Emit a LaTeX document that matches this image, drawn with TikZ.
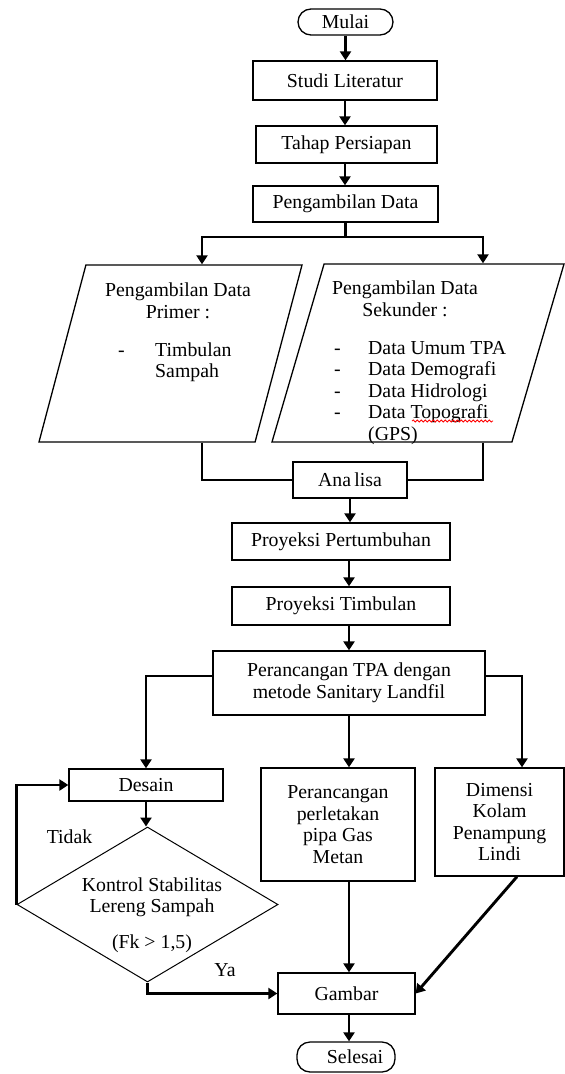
\documentclass[tikz,border=0pt]{standalone}
\usepackage{fontspec}
\setmainfont{Liberation Serif}
\usepackage{tikz}
\usetikzlibrary{positioning,arrows.meta,calc,shapes.geometric,decorations.pathmorphing}

\begin{document}
\begin{tikzpicture}[x=1pt,y=-1pt,
	every node/.style={font=\fontsize{19.8}{21.5}\selectfont, inner sep=0pt},
	box/.style={draw, line width=1.3pt, rectangle, align=center},
	term/.style={draw, line width=1.3pt, rectangle, rounded corners=13pt},
	data/.style={draw, line width=1.3pt, trapezium, inner sep=2pt, trapezium left angle=74.5, trapezium right angle=105.5, trapezium stretches=true},
	decision/.style={draw, line width=1pt, diamond},
	line/.style={line width=2.9pt},
	arr/.style={line width=2.9pt, -{Triangle[length=9pt,width=11pt]}}]
	\useasboundingbox (0,0) rectangle (565,1074);
	
	% draw nodes
	\node[term, minimum width=95pt, minimum height=26pt] (mulai) at (345.5,22) {Mulai};
	\node[box, minimum width=184pt, minimum height=39pt] (studi) at (345,80.5) {Studi Literatur};
	\node[box, minimum width=181pt, minimum height=37pt] (tahap) at (346.5,144.5) {Tahap Persiapan};
	\node[box, minimum width=185pt, minimum height=36pt] (ambil) at (345.5,204) {Pengambilan Data};
	
	\node[data, minimum width=263pt, minimum height=177pt] (prim) at (170.5,353.5) {};
	\node[data, minimum width=292pt, minimum height=178pt] (sek) at (418,353) {};
	\node[align=center] (primjudul) at (178,301) {Pengambilan Data\\Primer :};
	\node[anchor=base west] (primisi) at (118,356) {\begin{tabular}[t]{@{}p{37pt}@{}l@{}}-&Timbulan\\&Sampah\end{tabular}};
	\node[align=center] (sekjudul) at (405,299) {Pengambilan Data\\Sekunder :};
	\node[anchor=base west] (sekisi) at (334,354) {\begin{tabular}[t]{@{}p{34pt}@{}l@{}}-&Data Umum TPA\\-&Data Demografi\\-&Data Hidrologi\\-&Data Topografi\\&(GPS)\end{tabular}};
	
	\node[box, minimum width=114pt, minimum height=36pt] (anal) at (350,480) {Ana\,lisa};
	\node[box, minimum width=218pt, minimum height=37pt] (pert) at (341,541.5) {Proyeksi Pertumbuhan};
	\node[box, minimum width=218pt, minimum height=38pt] (timb) at (341,606) {Proyeksi Timbulan};
	\node[box, minimum width=272pt, minimum height=64pt] (tpa) at (349,683) {Perancangan TPA dengan\\metode Sanitary Landfil};
	
	\node[box, minimum width=154pt, minimum height=32pt] (desain) at (146,785) {Desain};
	\node[decision, minimum width=261pt, minimum height=155pt] (kontrol) at (147.5,904.5) {};
	\node[align=center] (kontroltxt) at (152,915) {Kontrol Stabilitas\\Lereng Sampah\\[14pt](Fk > 1,5)};
	\node[box, minimum width=154pt, minimum height=113pt] (gas) at (338,824.5) {Perancangan\\perletakan\\pipa Gas\\Metan};
	\node[box, minimum width=129pt, minimum height=108pt] (lindi) at (499.5,822) {Dimensi\\Kolam\\Penampung\\Lindi};
	\node[box, minimum width=137pt, minimum height=41pt] (gambar) at (346.5,993.5) {Gambar};
	\node[term, minimum width=98pt, minimum height=30pt] (selesai) at (346,1057) {\hspace*{18pt}Selesai};
	
	\node (tidak) at (69.5,837) {Tidak};
	\node (ya) at (225,970) {Ya};
	
	% spell check mark
	\draw[red, line width=0.8pt, decorate, decoration={snake, amplitude=1pt, segment length=4pt}] (412,421) -- (493,421);
	
	% draw arrows
	\coordinate (cabangL) at (202,237);
	\coordinate (cabangR) at (483,237);
	\draw[arr] (mulai.south) -- (mulai.south |- studi.north);
	\draw[arr] (studi.south) -- (studi.south |- tahap.north);
	\draw[arr] (tahap.south -| studi.south) -- (studi.south |- ambil.north);
	\draw[arr] (ambil.south) |- (cabangL) -- (cabangL |- prim.north);
	\draw[arr] (ambil.south) |- (cabangR) -- (cabangR |- sek.north);
	\draw[line] (cabangL |- prim.south) |- (anal.west);
	\draw[line] (cabangR |- sek.south) |- (anal.east);
	
	\draw[arr] (anal.south) -- (anal.south |- pert.north);
	\draw[arr] (tpa.south |- pert.south) -- (tpa.south |- timb.north);
	\draw[arr] (tpa.south |- timb.south) -- (tpa.north);
	\draw[arr] ($(tpa.west)+(0,-7)$) -| (desain.north);
	\draw[arr] (tpa.south) -- (tpa.south |- gas.north);
	\draw[arr] ($(tpa.east)+(0,-7)$) -| ($(lindi.north)+(22.5,0)$);
	
	\draw[arr] (desain.south) -- (desain.south |- kontrol.north);
	\draw[arr] (kontrol.west) |- (desain.west);
	\draw[arr] (kontrol.south) |- (gambar.west);
	\draw[arr] (tpa.south |- gas.south) -- (tpa.south |- gambar.north);
	\draw[arr] ($(lindi.south)+(17.5,0)$) -- (gambar.east);
	\draw[arr] (tpa.south |- gambar.south) -- (tpa.south |- selesai.north);
\end{tikzpicture}
\end{document}
